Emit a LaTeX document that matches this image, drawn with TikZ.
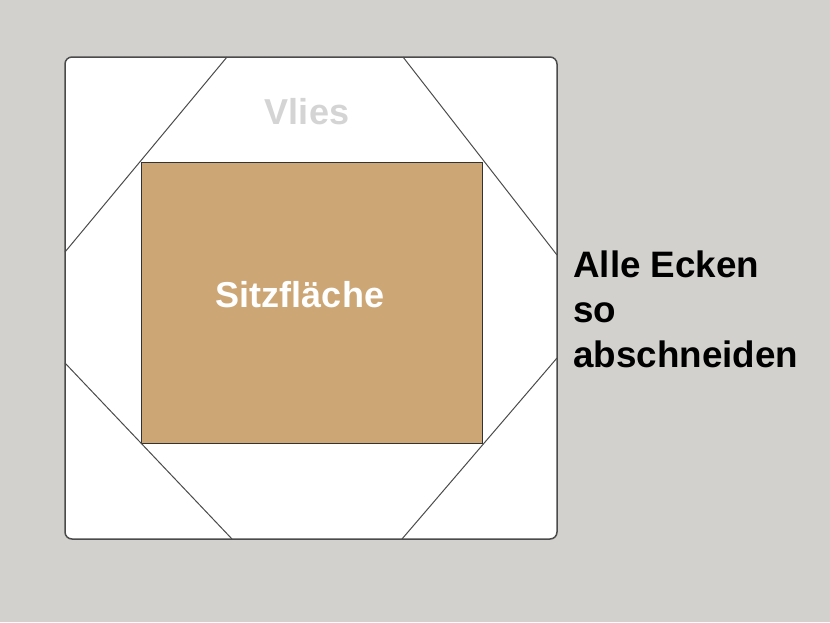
\documentclass[tikz,border=0pt]{standalone}
\usepackage{fontspec}
\setmainfont{Liberation Sans}
\definecolor{bg}{RGB}{211,209,206}
\definecolor{seat}{RGB}{204,166,117}
\definecolor{vliesgray}{RGB}{212,212,212}
\definecolor{edge}{RGB}{75,75,75}
\tikzset{
  lbl/.style={inner sep=0pt, anchor=base, font=\fontsize{36}{45}\selectfont\bfseries},
  rlbl/.style={inner sep=0pt, anchor=base west, font=\fontsize{36.8}{45}\selectfont\bfseries},
  cutline/.style={draw=edge, line width=1pt},
}
\begin{document}
\begin{tikzpicture}[x=1pt,y=-1pt]
\fill[bg] (0,0) rectangle (830,622);
\useasboundingbox (0,0) rectangle (830,622);
% fleece
\draw[fill=white, draw=edge, line width=1.5pt, rounded corners=7pt] (65,57) rectangle (557,539);
% seat
\draw[fill=seat, draw=black!80, line width=0.8pt] (141,162.5) rectangle (482,443);
% corner lines
\coordinate (tl1) at (227,57); \coordinate (tl2) at (65,252);
\coordinate (tr1) at (403,57); \coordinate (tr2) at (557,255);
\coordinate (bl1) at (65,363); \coordinate (bl2) at (232,539);
\coordinate (br1) at (402,539); \coordinate (br2) at (557,358);
\draw[cutline] (tl1) -- (tl2);
\draw[cutline] (tr1) -- (tr2);
\draw[cutline] (bl1) -- (bl2);
\draw[cutline] (br1) -- (br2);
% texts
\node[lbl, text=vliesgray] (vlies) at (307,124) {Vlies};
\node[lbl, text=white] (sitz) at (300,307) {Sitzfläche};
\node[rlbl] (t1) at (573,277) {Alle Ecken};
\node[rlbl] (t2) at (573,322) {so};
\node[rlbl] (t3) at (573,367) {abschneiden};
\end{tikzpicture}
\end{document}
